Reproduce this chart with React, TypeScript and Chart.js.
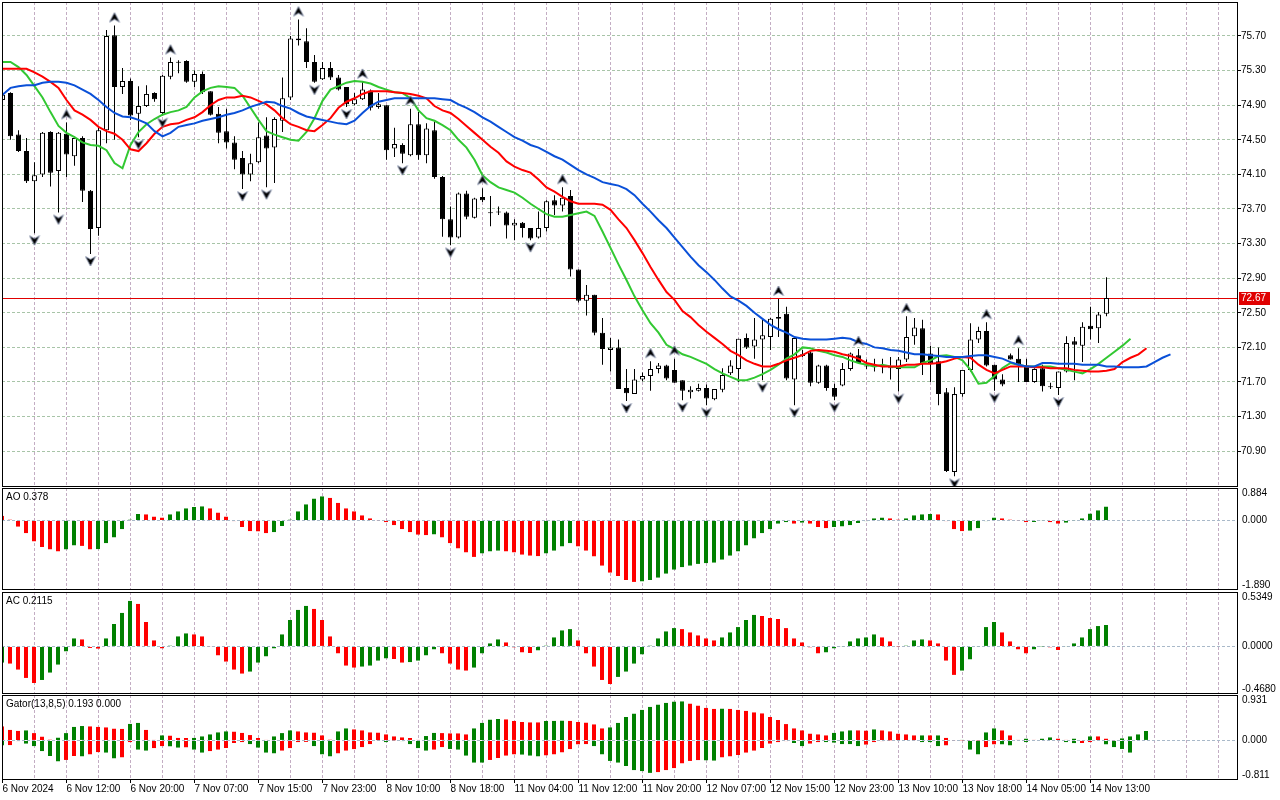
import React, { useEffect, useRef } from "react";
import { Chart, registerables } from "chart.js";

Chart.register(...registerables);
Chart.defaults.font.family = "'Liberation Sans', Arial, sans-serif";
Chart.defaults.font.size = 10;
Chart.defaults.color = "#000";

// ---- price data (one bar per hour, 139 bars) ----
const opens = [
  74.96, 75.04, 74.56, 74.37, 74.02, 74.1, 74.59, 74.14, 74.57, 74.31,
  74.52, 73.91, 73.48, 74.61, 75.71, 75.11, 75.18, 74.8, 74.89, 75.04,
  74.81, 75.23, 75.4, 75.41, 75.17, 75.26, 75.06, 74.8, 74.6, 74.47,
  74.29, 74.1, 74.24, 74.55, 74.41, 74.72, 74.99, 75.67, 75.64, 75.4,
  75.2, 75.33, 75.22, 75.11, 74.91, 74.97, 75.07, 74.88, 74.9, 74.4,
  74.44, 74.32, 74.68, 74.32, 74.61, 74.07, 73.58, 73.37, 73.88, 73.6,
  73.84, 73.65, 73.66, 73.66, 73.51, 73.54, 73.48, 73.37, 73.48, 73.8,
  73.74, 73.85, 73.0, 72.64, 72.71, 72.27, 72.07, 72.1, 71.63, 71.56,
  71.73, 71.77, 71.85, 71.89, 71.84, 71.72, 71.58, 71.6, 71.63, 71.5,
  71.61, 71.8, 71.85, 72.21, 72.11, 72.19, 72.22, 72.43, 72.49, 71.73,
  72.0, 72.04, 71.69, 71.89, 71.63, 71.66, 71.85, 72.01, 71.89, 71.9,
  71.87, 71.87, 71.85, 71.96, 72.23, 72.32, 72.03, 71.94, 71.58, 70.66,
  71.56, 71.84, 72.19, 72.29, 71.9, 71.73, 72.01, 71.97, 71.89, 71.7,
  71.86, 71.65, 71.63, 71.82, 72.17, 72.12, 72.35, 72.32, 72.49,
];
const highs = [
  75.03, 75.05, 74.61, 74.52, 74.24, 74.59, 74.6, 74.59, 74.7, 74.54,
  74.54, 73.92, 74.64, 75.77, 75.82, 75.33, 75.21, 75.12, 75.13, 75.05,
  75.25, 75.45, 75.42, 75.42, 75.3, 75.29, 75.06, 74.88, 74.86, 74.54,
  74.37, 74.34, 74.7, 74.76, 74.76, 75.22, 75.7, 75.89, 75.79, 75.48,
  75.4, 75.4, 75.25, 75.11, 75.04, 75.17, 75.08, 75.04, 74.9, 74.64,
  74.46, 74.86, 74.82, 74.69, 74.71, 74.08, 73.73, 73.89, 73.91, 73.83,
  73.94, 73.85, 73.73, 73.67, 73.58, 73.55, 73.48, 73.67, 73.8, 73.86,
  73.95, 73.92, 73.0, 72.82, 72.71, 72.44, 72.21, 72.19, 71.85, 71.85,
  71.81, 71.94, 71.92, 71.9, 71.97, 71.72, 71.65, 71.68, 71.67, 71.62,
  71.86, 71.95, 72.2, 72.26, 72.44, 72.44, 72.44, 72.66, 72.57, 72.21,
  72.07, 72.07, 71.9, 71.9, 71.68, 71.92, 72.04, 72.08, 71.96, 71.97,
  71.97, 71.99, 71.99, 72.46, 72.44, 72.42, 72.12, 72.1, 71.63, 71.64,
  71.84, 72.38, 72.34, 72.39, 71.9, 71.79, 72.03, 72.09, 71.97, 71.86,
  71.9, 71.69, 71.82, 72.23, 72.22, 72.39, 72.57, 72.51, 72.91,
];
const lows = [
  74.95, 74.5, 74.36, 74.0, 73.42, 74.07, 73.96, 73.66, 74.07, 74.2,
  73.78, 73.18, 73.39, 74.46, 74.5, 75.03, 74.73, 74.53, 74.88, 74.94,
  74.78, 75.2, 75.27, 75.16, 75.11, 75.03, 74.78, 74.46, 74.4, 74.16,
  73.93, 74.02, 74.23, 73.95, 74.0, 74.59, 74.96, 75.59, 75.33, 75.16,
  75.19, 75.19, 75.07, 74.88, 74.9, 74.96, 74.84, 74.86, 74.27, 74.3,
  74.23, 74.31, 74.27, 74.23, 74.05, 73.38, 73.28, 73.36, 73.58, 73.59,
  73.78, 73.5, 73.63, 73.36, 73.34, 73.37, 73.34, 73.36, 73.44, 73.63,
  73.67, 72.92, 72.62, 72.47, 72.24, 71.9, 71.82, 71.62, 71.48, 71.56,
  71.71, 71.6, 71.8, 71.72, 71.69, 71.49, 71.51, 71.59, 71.43, 71.49,
  71.58, 71.78, 71.7, 72.08, 71.97, 71.72, 72.07, 72.22, 71.72, 71.43,
  71.99, 71.65, 71.68, 71.6, 71.49, 71.65, 71.83, 71.91, 71.85, 71.82,
  71.8, 71.73, 71.59, 71.93, 72.13, 71.78, 71.7, 71.43, 70.66, 70.61,
  71.53, 71.82, 72.15, 71.88, 71.6, 71.65, 71.96, 71.7, 71.7, 71.69,
  71.59, 71.62, 71.55, 71.81, 71.72, 71.93, 72.19, 72.15, 72.46,
];
const closes = [
  75.02, 74.54, 74.37, 74.02, 74.09, 74.58, 74.12, 74.58, 74.33, 74.52,
  73.91, 73.47, 74.61, 75.7, 75.11, 75.18, 74.78, 74.89, 75.03, 74.97,
  75.24, 75.4, 75.39, 75.17, 75.26, 75.05, 74.79, 74.58, 74.47, 74.27,
  74.1, 74.23, 74.53, 74.4, 74.74, 74.98, 75.67, 75.65, 75.4, 75.17,
  75.33, 75.22, 75.08, 74.91, 74.97, 75.08, 74.87, 74.91, 74.38, 74.45,
  74.34, 74.68, 74.32, 74.63, 74.07, 73.58, 73.37, 73.88, 73.61, 73.82,
  73.8, 73.65, 73.66, 73.51, 73.54, 73.48, 73.36, 73.48, 73.79, 73.74,
  73.83, 73.0, 72.64, 72.71, 72.27, 72.08, 72.1, 71.62, 71.57, 71.73,
  71.77, 71.85, 71.89, 71.74, 71.69, 71.6, 71.61, 71.63, 71.51, 71.62,
  71.78, 71.89, 72.2, 72.1, 72.19, 72.24, 72.43, 72.45, 71.74, 72.21,
  72.02, 71.69, 71.89, 71.63, 71.53, 71.85, 72.03, 71.92, 71.88, 71.87,
  71.87, 71.86, 71.96, 72.22, 72.33, 71.91, 71.91, 71.56, 70.67, 71.56,
  71.84, 72.19, 72.29, 71.89, 71.73, 71.67, 71.96, 71.9, 71.7, 71.85,
  71.65, 71.64, 71.82, 72.15, 72.13, 72.34, 72.31, 72.48, 72.67,
];

// alligator lines (already shifted forward: jaw 8, teeth 5, lips 3 bars)
const jaw = [
  75.02, 75.1, 75.12, 75.13, 75.13, 75.16, 75.17, 75.17, 75.16, 75.13,
  75.08, 75.03, 74.96, 74.88, 74.81, 74.77, 74.76, 74.73, 74.69, 74.6,
  74.54, 74.58, 74.65, 74.67, 74.69, 74.72, 74.74, 74.76, 74.79, 74.81,
  74.84, 74.88, 74.91, 74.94, 74.93, 74.89, 74.86, 74.81, 74.77, 74.75,
  74.73, 74.71, 74.69, 74.68, 74.72, 74.81, 74.89, 74.94, 74.96, 74.98,
  74.98, 74.98, 74.98, 74.98, 74.98, 74.97, 74.96, 74.91, 74.87, 74.82,
  74.76, 74.71, 74.65, 74.59, 74.53, 74.49, 74.44, 74.41, 74.36, 74.31,
  74.27, 74.21, 74.15, 74.1, 74.06, 74.01, 73.99, 73.97, 73.93, 73.86,
  73.76, 73.67, 73.57, 73.48, 73.37, 73.26, 73.15, 73.05, 72.97, 72.88,
  72.78, 72.69, 72.64, 72.58, 72.5, 72.43, 72.36, 72.31, 72.27, 72.22,
  72.2, 72.19, 72.19, 72.19, 72.2, 72.21, 72.2, 72.16, 72.14, 72.1,
  72.09, 72.07, 72.06, 72.04, 72.02, 72.02, 72.01, 72.0, 71.99, 71.99,
  71.99, 72.0, 72.01, 72.01, 71.99, 71.97, 71.93, 71.9, 71.88, 71.88,
  71.92, 71.92, 71.91, 71.91, 71.91, 71.9, 71.9, 71.9, 71.88, 71.88,
  71.87, 71.87, 71.87, 71.88, 71.93, 71.98, 72.02,
];
const teeth = [
  75.32, 75.32, 75.32, 75.32, 75.28, 75.23, 75.17, 75.1, 74.96, 74.84,
  74.79, 74.73, 74.65, 74.6, 74.57, 74.5, 74.39, 74.37, 74.46, 74.57,
  74.65, 74.68, 74.69, 74.73, 74.76, 74.82, 74.9, 74.96, 74.99, 74.99,
  75.01, 74.99, 74.95, 74.91, 74.84, 74.75, 74.68, 74.65, 74.61, 74.6,
  74.67, 74.75, 74.87, 74.94, 74.98, 75.03, 75.06, 75.06, 75.06, 75.05,
  75.04, 75.03, 75.01, 74.98, 74.89, 74.84, 74.81, 74.74, 74.66, 74.58,
  74.5, 74.42, 74.35, 74.25, 74.19, 74.15, 74.12, 74.04, 73.95, 73.9,
  73.84, 73.79, 73.76, 73.76, 73.76, 73.75, 73.69, 73.58, 73.48, 73.34,
  73.19, 73.03, 72.88, 72.74, 72.65, 72.52, 72.45, 72.36, 72.28, 72.21,
  72.14, 72.06, 72.01, 71.95, 71.91, 71.88, 71.88, 71.91, 71.95, 71.98,
  72.01, 72.06, 72.07, 72.06, 72.05, 72.02, 72.0, 71.97, 71.92, 71.9,
  71.88, 71.88, 71.88, 71.9, 71.9, 71.91, 71.91, 71.92, 71.94, 71.97,
  71.99, 71.98, 71.9, 71.84, 71.8, 71.84, 71.88, 71.88, 71.88, 71.87,
  71.87, 71.86, 71.86, 71.86, 71.84, 71.83, 71.82, 71.82, 71.83, 71.85,
  71.93, 71.98, 72.02, 72.09,
];
const lips = [
  75.4, 75.4, 75.34, 75.25, 75.12, 74.99, 74.82, 74.66, 74.58, 74.53,
  74.47, 74.44, 74.43, 74.38, 74.23, 74.17, 74.44, 74.59, 74.68, 74.74,
  74.79, 74.82, 74.84, 74.88, 74.99, 75.06, 75.1, 75.12, 75.11, 75.1,
  75.01, 74.87, 74.73, 74.6, 74.56, 74.53, 74.5, 74.49, 74.59, 74.75,
  74.95, 75.08, 75.12, 75.16, 75.18, 75.17, 75.15, 75.11, 75.08, 75.05,
  75.04, 74.98, 74.84, 74.75, 74.72, 74.67, 74.61, 74.5, 74.41, 74.27,
  74.09, 74.01, 73.95, 73.92, 73.89, 73.83, 73.76, 73.7, 73.64, 73.61,
  73.61, 73.63, 73.65, 73.67, 73.62, 73.44, 73.25, 73.06, 72.88, 72.69,
  72.53, 72.38, 72.27, 72.13, 72.08, 72.02, 71.99, 71.95, 71.91, 71.85,
  71.8, 71.76, 71.72, 71.72, 71.75, 71.79, 71.84, 71.9, 71.97, 72.02,
  72.1, 72.09, 72.06, 72.04, 72.01, 71.99, 71.95, 71.92, 71.9, 71.88,
  71.9, 71.88, 71.87, 71.87, 71.87, 71.92, 71.95, 72.0, 72.01, 71.99,
  71.95, 71.84, 71.68, 71.69, 71.77, 71.86, 71.92, 71.9, 71.88, 71.88,
  71.88, 71.88, 71.86, 71.84, 71.82, 71.8, 71.85, 71.91, 71.98, 72.05,
  72.12, 72.2,
];

// bars carrying a fractal mark
const upFractals = [8, 14, 21, 37, 45, 51, 60, 70, 81, 84, 97, 107, 113, 123, 127];
const downFractals = [4, 7, 11, 17, 20, 30, 33, 39, 43, 50, 56, 66, 78, 85, 88, 95, 99, 104, 112, 119, 124, 132];

// Awesome Oscillator
const aoBefore = 0.2;
const aoValues = [
  0.13, 0.03, -0.17, -0.35, -0.57, -0.72, -0.79, -0.84, -0.79, -0.68,
  -0.69, -0.79, -0.78, -0.62, -0.46, -0.24, 0.03, 0.18, 0.17, 0.11,
  0.08, 0.17, 0.25, 0.33, 0.37, 0.39, 0.33, 0.22, 0.11, -0.02,
  -0.18, -0.29, -0.3, -0.35, -0.32, -0.15, 0.03, 0.25, 0.44, 0.6,
  0.66, 0.62, 0.48, 0.33, 0.25, 0.14, 0.06, 0.01, -0.05, -0.13,
  -0.24, -0.32, -0.39, -0.4, -0.38, -0.46, -0.62, -0.76, -0.87, -0.99,
  -0.9, -0.84, -0.82, -0.84, -0.87, -0.93, -0.96, -0.97, -0.9, -0.82,
  -0.71, -0.62, -0.71, -0.82, -0.98, -1.23, -1.42, -1.51, -1.62, -1.67,
  -1.66, -1.62, -1.56, -1.45, -1.34, -1.27, -1.23, -1.18, -1.16, -1.15,
  -1.07, -0.96, -0.84, -0.68, -0.49, -0.35, -0.24, -0.09, -0.05, -0.09,
  -0.06, -0.09, -0.18, -0.21, -0.18, -0.16, -0.13, -0.07, -0.02, 0.06,
  0.08, 0.06, 0.03, 0.06, 0.14, 0.17, 0.18, 0.17, -0.02, -0.24,
  -0.29, -0.28, -0.21, -0.02, 0.08, 0.06, 0.03, -0.01, -0.05, -0.04,
  -0.01, -0.05, -0.09, -0.06, -0.01, 0.06, 0.19, 0.28, 0.378,
];

// Accelerator Oscillator
const acBefore = -0.19;
const acValues = [
  -0.16, -0.17, -0.23, -0.31, -0.36, -0.33, -0.26, -0.18, -0.05, 0.08,
  0.07, -0.015, -0.022, 0.08, 0.22, 0.33, 0.45, 0.42, 0.24, 0.06,
  -0.02, 0.01, 0.1, 0.13, 0.12, 0.1, -0.003, -0.09, -0.15, -0.23,
  -0.27, -0.25, -0.16, -0.1, -0.02, 0.12, 0.26, 0.36, 0.4, 0.37,
  0.26, 0.1, -0.07, -0.19, -0.21, -0.2, -0.19, -0.14, -0.12, -0.125,
  -0.16, -0.155, -0.14, -0.09, -0.03, -0.07, -0.17, -0.23, -0.24, -0.21,
  -0.07, 0.03, 0.07, 0.04, -0.01, -0.06, -0.065, -0.04, 0.01, 0.09,
  0.16, 0.17, 0.06, -0.07, -0.2, -0.33, -0.37, -0.3, -0.25, -0.17,
  -0.08, 0.01, 0.08, 0.15, 0.18, 0.17, 0.14, 0.11, 0.08, 0.06,
  0.09, 0.14, 0.19, 0.26, 0.31, 0.3, 0.28, 0.27, 0.18, 0.08,
  0.04, -0.01, -0.07, -0.06, -0.02, -0.003, 0.05, 0.08, 0.09, 0.12,
  0.09, 0.05, -0.002, 0.01, 0.06, 0.07, 0.06, 0.03, -0.14, -0.28,
  -0.24, -0.13, -0.003, 0.19, 0.24, 0.14, 0.05, -0.03, -0.07, -0.03,
  -0.002, -0.01, -0.035, -0.003, 0.03, 0.09, 0.17, 0.2, 0.2115,
];

// Gator oscillator (runs 5 bars past the last candle)
const gatorUpperBefore = 0.3;
const gatorLowerBefore = -0.09;
const gatorUpper = [
  0.29, 0.22, 0.2, 0.21, 0.15, 0.08, 0.02, 0.06, 0.15, 0.28,
  0.295, 0.29, 0.28, 0.27, 0.245, 0.24, 0.34, 0.36, 0.22, 0.015,
  0.105, 0.1, 0.055, 0.05, 0.055, 0.085, 0.125, 0.17, 0.19, 0.185,
  0.155, 0.11, 0.05, 0.015, 0.085, 0.15, 0.21, 0.19, 0.17, 0.165,
  0.105, 0.02, 0.19, 0.25, 0.23, 0.21, 0.17, 0.165, 0.125, 0.085,
  0.065, 0.05, 0.015, 0.09, 0.155, 0.15, 0.148, 0.145, 0.125, 0.25,
  0.36, 0.43, 0.44, 0.435, 0.4, 0.38, 0.375, 0.37, 0.4, 0.405,
  0.41, 0.405, 0.38, 0.365, 0.33, 0.25, 0.27, 0.36, 0.48, 0.55,
  0.63, 0.69, 0.735, 0.77, 0.8, 0.805, 0.755, 0.715, 0.67, 0.65,
  0.655, 0.65, 0.63, 0.61, 0.58, 0.555, 0.48, 0.42, 0.335, 0.25,
  0.21, 0.14, 0.125, 0.105, 0.155, 0.19, 0.21, 0.209, 0.205, 0.23,
  0.21, 0.19, 0.14, 0.125, 0.105, 0.106, 0.105, 0.107, 0.055, 0.003,
  0.015, 0.002, 0.001, 0.17, 0.25, 0.21, 0.105, 0.012, 0.04, 0.015,
  0.042, 0.065, 0.04, 0.015, 0.04, 0.005, 0.085, 0.084, 0.04, 0.003,
  0.045, 0.085, 0.125, 0.193,
];
const gatorLower = [
  -0.105, -0.1, -0.015, -0.07, -0.12, -0.22, -0.32, -0.43, -0.4, -0.32,
  -0.33, -0.29, -0.24, -0.25, -0.37, -0.35, -0.035, -0.19, -0.21, -0.16,
  -0.12, -0.125, -0.15, -0.145, -0.19, -0.25, -0.22, -0.19, -0.155, -0.055,
  -0.035, -0.08, -0.15, -0.25, -0.27, -0.21, -0.16, -0.035, -0.03, -0.12,
  -0.29, -0.33, -0.27, -0.21, -0.18, -0.14, -0.08, -0.007, -0.035, -0.003,
  -0.015, -0.08, -0.16, -0.21, -0.19, -0.14, -0.175, -0.19, -0.315, -0.455,
  -0.46, -0.4, -0.36, -0.315, -0.29, -0.295, -0.315, -0.33, -0.31, -0.29,
  -0.245, -0.18, -0.085, -0.08, -0.12, -0.29, -0.42, -0.455, -0.525, -0.61,
  -0.63, -0.665, -0.65, -0.61, -0.57, -0.475, -0.42, -0.405, -0.41, -0.415,
  -0.35, -0.33, -0.3, -0.25, -0.21, -0.155, -0.07, -0.035, -0.015, -0.055,
  -0.12, -0.07, -0.035, -0.036, -0.05, -0.077, -0.078, -0.12, -0.09, -0.035,
  -0.015, -0.004, -0.014, -0.01, -0.005, -0.035, -0.036, -0.12, -0.105, -0.012,
  -0.003, -0.19, -0.29, -0.14, -0.085, -0.086, -0.105, -0.012, -0.035, -0.013,
  -0.012, -0.011, -0.01, -0.035, -0.056, -0.055, -0.035, -0.01, -0.085, -0.14,
  -0.175, -0.25, 0, 0,
];

// axis texts
const timeLabels = [
  "6 Nov 2024", "6 Nov 12:00", "6 Nov 20:00", "7 Nov 07:00", "7 Nov 15:00", "7 Nov 23:00",
  "8 Nov 10:00", "8 Nov 18:00", "11 Nov 04:00", "11 Nov 12:00", "11 Nov 20:00", "12 Nov 07:00",
  "12 Nov 15:00", "12 Nov 23:00", "13 Nov 10:00", "13 Nov 18:00", "14 Nov 05:00", "14 Nov 13:00",
];
const priceTicks = [70.9, 71.3, 71.7, 72.1, 72.5, 72.9, 73.3, 73.7, 74.1, 74.5, 74.9, 75.3, 75.7];
const bidPrice = 72.67;

const PRICE_MIN = 70.486;
const PRICE_MAX = 76.093;
const AO_RANGE = [-1.89, 0.884];
const AC_RANGE = [-0.468, 0.5349];
const GATOR_RANGE = [-0.811, 0.931];

// 8 px per bar, 1236 px plot width
const X_MIN = -0.0625;
const X_MAX = 154.4375;
const BARS_PER_LABEL = 8;
const BARS_PER_GRID = 4;

const V_GRID = "#c3adc3";
const H_GRID = "#a8c4a8";
const ZERO_GRID = "#a9b9c9";
const CLEAR = "rgba(0,0,0,0)";
const UP_BAR = "#008000";
const DOWN_BAR = "#ff0000";
const FONT_CSS = "10px 'Liberation Sans', Arial, sans-serif";

const gridBars = Array.from({ length: 39 }, (_, k) => k * BARS_PER_GRID);

function makeArrow(up: boolean): HTMLCanvasElement {
  const c = document.createElement("canvas");
  c.width = 12;
  c.height = 32;
  const g = c.getContext("2d")!;
  const cy = up ? 8 : 23;
  const s = up ? 1 : -1;
  g.beginPath();
  g.moveTo(6, cy - 5 * s);
  g.lineTo(11, cy + 4.5 * s);
  g.lineTo(6, cy + 1.5 * s);
  g.lineTo(1, cy + 4.5 * s);
  g.closePath();
  g.fillStyle = "#000";
  g.fill();
  g.strokeStyle = "#7f8ca8";
  g.lineWidth = 0.8;
  g.stroke();
  return c;
}

function zeroPaddings(s: any) {
  s.paddingLeft = 0;
  s.paddingRight = 0;
  s.paddingTop = 0;
  s.paddingBottom = 0;
}

function xScale(withLabels: boolean) {
  return {
    type: "linear",
    min: X_MIN,
    max: X_MAX,
    offset: false,
    afterBuildTicks: (s: any) => {
      s.ticks = gridBars.map((v) => ({ value: v }));
    },
    afterFit: (s: any) => {
      s.height = withLabels ? 20 : 0;
      zeroPaddings(s);
    },
    grid: {
      offset: false,
      color: (c: any) => (c.tick && c.tick.value === 0 ? CLEAR : V_GRID),
      lineWidth: 1,
      drawTicks: withLabels,
      tickLength: 3,
      tickColor: (c: any) =>
        c.tick && c.tick.value % BARS_PER_LABEL === 0 && timeLabels[c.tick.value / BARS_PER_LABEL] ? "#000" : CLEAR,
    },
    border: { display: false, dash: [3, 2] },
    ticks: {
      display: withLabels,
      autoSkip: false,
      maxRotation: 0,
      minRotation: 0,
      align: "start",
      padding: 0,
      color: "#000",
      callback: (v: any) => (v % BARS_PER_LABEL === 0 ? timeLabels[v / BARS_PER_LABEL] ?? "" : ""),
    },
  };
}

const framePlugin = {
  id: "frame",
  afterDraw(chart: any) {
    const { ctx, chartArea: a } = chart;
    ctx.save();
    ctx.strokeStyle = "#000";
    ctx.lineWidth = 1;
    ctx.strokeRect(a.left + 0.5, a.top + 0.5, a.right - a.left - 1, a.bottom - a.top - 1);
    ctx.restore();
  },
};

const bidPlugin = {
  id: "bid",
  beforeDatasetsDraw(chart: any) {
    const { ctx, chartArea: a, scales } = chart;
    const y = Math.round(scales.y.getPixelForValue(bidPrice)) + 0.5;
    ctx.save();
    ctx.strokeStyle = "#e00000";
    ctx.lineWidth = 1;
    ctx.beginPath();
    ctx.moveTo(a.left, y);
    ctx.lineTo(a.right, y);
    ctx.stroke();
    ctx.restore();
  },
  afterDraw(chart: any) {
    const { ctx, chartArea: a, scales } = chart;
    const y = Math.round(scales.y.getPixelForValue(bidPrice));
    ctx.save();
    ctx.fillStyle = "#e00000";
    ctx.fillRect(a.right + 1, y - 6, 31, 13);
    ctx.fillStyle = "#fff";
    ctx.font = FONT_CSS;
    ctx.textBaseline = "middle";
    ctx.fillText(bidPrice.toFixed(2), a.right + 3, y + 0.5);
    ctx.restore();
  },
};

function paneLabels(title: string, range: number[], digits: number) {
  return {
    id: "paneLabels",
    afterDraw(chart: any) {
      const { ctx, chartArea: a, scales } = chart;
      ctx.save();
      ctx.font = FONT_CSS;
      ctx.fillStyle = "#000";
      ctx.textBaseline = "middle";
      ctx.textAlign = "left";
      ctx.fillText(title, a.left + 4, a.top + 9.5);
      [range[1], 0, range[0]].forEach((v) => {
        const y = Math.min(Math.max(scales.y.getPixelForValue(v), a.top + 5), a.bottom - 5);
        ctx.fillText(v.toFixed(digits), a.right + 4, y);
      });
      ctx.restore();
    },
  };
}

function lineSet(values: number[], color: string) {
  return {
    type: "line",
    data: values.map((v, i) => ({ x: i, y: v })),
    borderColor: color,
    borderWidth: 2,
    pointRadius: 0,
    tension: 0,
    fill: false,
    order: 1,
  };
}

function fractalSet(idx: number[], src: number[], img: HTMLCanvasElement) {
  return {
    type: "line",
    data: idx.map((i) => ({ x: i, y: src[i] })),
    showLine: false,
    pointStyle: img,
    pointRadius: 6,
    pointHoverRadius: 6,
    order: 0,
  };
}

function histSet(values: number[], colors: string[]) {
  return {
    type: "bar",
    data: values.map((v, i) => ({ x: i, y: v })),
    backgroundColor: colors,
    borderColor: CLEAR,
    borderWidth: { top: 0, right: 1, bottom: 0, left: 0 },
    borderSkipped: false,
    barThickness: 5,
    grouped: false,
    inflateAmount: 0,
  };
}

function risingColors(values: number[], before: number, abs = false) {
  return values.map((v, i) => {
    const prev = i ? values[i - 1] : before;
    const up = abs ? Math.abs(v) > Math.abs(prev) : v > prev;
    return up ? UP_BAR : DOWN_BAR;
  });
}

function indicatorY(range: number[]) {
  return {
    position: "right",
    min: range[0],
    max: range[1],
    afterBuildTicks: (s: any) => {
      s.ticks = [{ value: 0 }];
    },
    afterFit: (s: any) => {
      s.width = 42;
      zeroPaddings(s);
    },
    grid: { color: ZERO_GRID, drawTicks: false },
    border: { display: false, dash: [3, 2] },
    ticks: { display: false },
  };
}

const baseOptions = {
  responsive: false,
  animation: false,
  events: [],
  plugins: { legend: { display: false }, tooltip: { enabled: false } },
};

function makeMain(): any {
  const upImg = makeArrow(true);
  const downImg = makeArrow(false);
  return {
    type: "line",
    data: {
      datasets: [
        {
          type: "bar",
          data: opens.map((_, i) => ({ x: i, y: [lows[i], highs[i]] })),
          backgroundColor: "#000",
          borderWidth: 0,
          barThickness: 1,
          grouped: false,
          inflateAmount: 0,
          order: 4,
        },
        {
          type: "bar",
          data: opens.map((o, i) => ({ x: i, y: [o, closes[i]] })),
          backgroundColor: opens.map((o, i) => (closes[i] >= o ? "#fff" : "#000")),
          borderColor: "#000",
          borderWidth: 1,
          borderSkipped: false,
          barThickness: 5,
          minBarLength: 1,
          grouped: false,
          inflateAmount: 0,
          order: 3,
        },
        lineSet(jaw, "#0a50d8"),
        lineSet(teeth, "#ff0000"),
        lineSet(lips, "#32c832"),
        fractalSet(upFractals, highs, upImg),
        fractalSet(downFractals, lows, downImg),
      ],
    },
    options: {
      ...baseOptions,
      layout: { autoPadding: false, padding: { left: 2, top: 2, right: 0, bottom: 1 } },
      scales: {
        x: xScale(false),
        y: {
          position: "right",
          min: PRICE_MIN,
          max: PRICE_MAX,
          afterBuildTicks: (s: any) => {
            s.ticks = priceTicks.map((v) => ({ value: v }));
          },
          afterFit: (s: any) => {
            s.width = 42;
            zeroPaddings(s);
          },
          grid: { color: H_GRID, drawTicks: true, tickLength: 3, tickColor: "#000" },
          border: { display: false, dash: [3, 2] },
          ticks: { padding: 0, color: "#000", callback: (v: any) => Number(v).toFixed(2) },
        },
      },
    },
    plugins: [bidPlugin, framePlugin],
  };
}

function makeAO(): any {
  return {
    type: "line",
    data: { datasets: [histSet(aoValues, risingColors(aoValues, aoBefore))] },
    options: {
      ...baseOptions,
      layout: { autoPadding: false, padding: { left: 2, top: 0, right: 0, bottom: 0 } },
      scales: { x: xScale(false), y: indicatorY(AO_RANGE) },
    },
    plugins: [paneLabels(`AO ${aoValues[aoValues.length - 1].toFixed(3)}`, AO_RANGE, 3), framePlugin],
  };
}

function makeAC(): any {
  return {
    type: "line",
    data: { datasets: [histSet(acValues, risingColors(acValues, acBefore))] },
    options: {
      ...baseOptions,
      layout: { autoPadding: false, padding: { left: 2, top: 0, right: 0, bottom: 0 } },
      scales: { x: xScale(false), y: indicatorY(AC_RANGE) },
    },
    plugins: [paneLabels(`AC ${acValues[acValues.length - 1].toFixed(4)}`, AC_RANGE, 4), framePlugin],
  };
}

function makeGator(): any {
  const last = gatorUpper.length - 1;
  const title = `Gator(13,8,5) ${gatorUpper[last].toFixed(3)} ${Math.abs(gatorLower[last]).toFixed(3)}`;
  return {
    type: "line",
    data: {
      datasets: [
        histSet(gatorUpper, risingColors(gatorUpper, gatorUpperBefore)),
        histSet(gatorLower, risingColors(gatorLower, gatorLowerBefore, true)),
      ],
    },
    options: {
      ...baseOptions,
      layout: { autoPadding: false, padding: { left: 2, top: 0, right: 0, bottom: 0 } },
      scales: { x: xScale(true), y: indicatorY(GATOR_RANGE) },
    },
    plugins: [paneLabels(title, GATOR_RANGE, 3), framePlugin],
  };
}

type PaneProps = { top: number; height: number; make: () => any };

const Pane: React.FC<PaneProps> = ({ top, height, make }) => {
  const ref = useRef<HTMLCanvasElement>(null);

  useEffect(() => {
    if (!ref.current) return;
    const chart = new Chart(ref.current, make());
    return () => {
      chart.destroy();
    };
  }, [make]);

  return (
    <canvas
      ref={ref}
      width={1280}
      height={height}
      style={{ position: "absolute", left: 0, top, width: 1280, height }}
    />
  );
};

export default function App() {
  return (
    <div
      style={{
        position: "fixed",
        left: 0,
        top: 0,
        width: 1280,
        height: 800,
        background: "#fff",
        overflow: "hidden",
      }}
    >
      <Pane top={0} height={488} make={makeMain} />
      <Pane top={488} height={102} make={makeAO} />
      <Pane top={592} height={102} make={makeAC} />
      <Pane top={695} height={105} make={makeGator} />
    </div>
  );
}
